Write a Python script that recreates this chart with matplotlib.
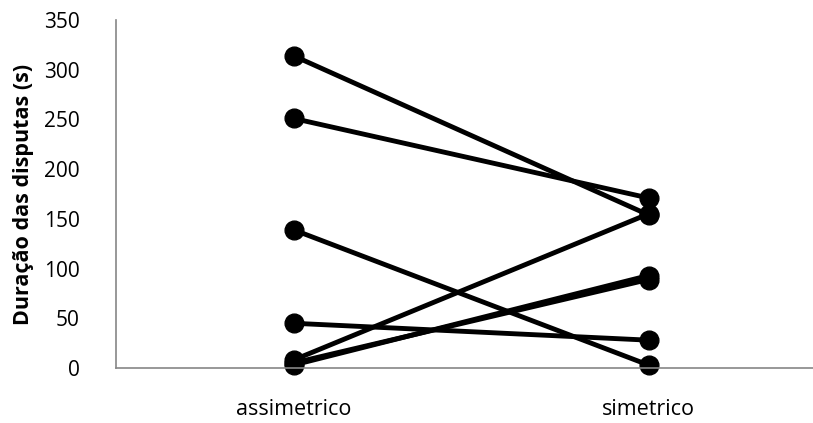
import matplotlib
matplotlib.use("Agg")
import matplotlib.pyplot as plt

plt.rcParams['font.family'] = ['Open Sans', 'DejaVu Sans']

# Contest durations per pair (s)
categories = ['assimetrico', 'simetrico']
assimetrico = [314, 251, 139, 45, 8, 3, 5]
simetrico = [154, 171, 3, 28, 155, 93, 89]

fig = plt.figure(figsize=(8.13, 4.23), dpi=100)
ax = fig.add_axes([116 / 813, 55 / 423, 710 / 813, 348 / 423])

for a, s in zip(assimetrico, simetrico):
    ax.plot([0, 1], [a, s], color='black', linewidth=3.5, marker='o',
            markersize=13.5, solid_capstyle='round', clip_on=False)

ax.set_xlim(-0.5, 1.5)
ax.set_ylim(0, 350)
ax.set_yticks(range(0, 351, 50))
ax.set_xticks([0, 1])
ax.set_xticklabels(categories, fontsize=15.5)
ax.tick_params(axis='both', length=0)
ax.tick_params(axis='y', pad=26, labelsize=15)
ax.tick_params(axis='x', pad=22)

for side in ['top', 'right']:
    ax.spines[side].set_visible(False)
for side in ['left', 'bottom']:
    ax.spines[side].set_color('#868686')
    ax.spines[side].set_linewidth(1.2)

ax.set_ylabel('Duração das disputas (s)', fontsize=15.5, fontweight='bold')
ax.yaxis.set_label_coords(-82 / 710, 0.5)

fig.savefig('out.png', dpi=100)
